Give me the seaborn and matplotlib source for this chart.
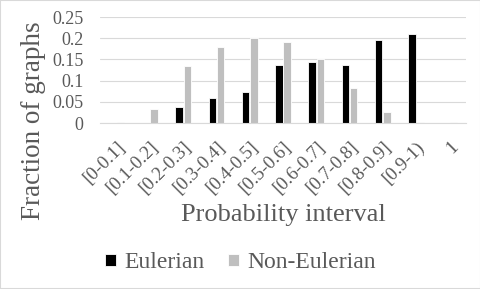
import matplotlib
matplotlib.use("Agg")
import matplotlib.pyplot as plt
import seaborn as sns
import pandas as pd

# Data
intervals = ["[0-0.1]", "[0.1-0.2]", "[0.2-0.3]", "[0.3-0.4]", "[0.4-0.5]", "[0.5-0.6]",
             "[0.6-0.7]", "[0.7-0.8]", "[0.8-0.9]", "[0.9-1)", "1"]
eulerian = [0.0, 0.0, 0.037, 0.06, 0.074, 0.136, 0.145, 0.136, 0.195, 0.21, 0.0]
non_eulerian = [0.002, 0.032, 0.135, 0.18, 0.2, 0.19, 0.15, 0.083, 0.025, 0.002, 0.002]

df = pd.DataFrame({
    "interval": intervals * 2,
    "fraction": eulerian + non_eulerian,
    "type": ["Eulerian"] * len(intervals) + ["Non-Eulerian"] * len(intervals),
})

sns.set_style("white")
plt.rcParams["font.family"] = ["Liberation Serif", "DejaVu Serif"]
txt = "#595959"

fig = plt.figure(figsize=(4.81, 2.89), dpi=100)
ax = fig.add_axes([100 / 481, 1 - 123 / 289, 366 / 481, 106 / 289])

sns.barplot(data=df, x="interval", y="fraction", hue="type",
            palette={"Eulerian": "#000000", "Non-Eulerian": "#bfbfbf"},
            width=0.5, gap=0.12, edgecolor="white", linewidth=0.6, ax=ax)

ax.set_ylim(0, 0.25)
ax.set_yticks([0, 0.05, 0.1, 0.15, 0.2, 0.25])
ax.set_yticklabels(["0", "0.05", "0.1", "0.15", "0.2", "0.25"])
ax.set_xlim(-0.5, len(intervals) - 0.5)
ax.yaxis.grid(True, color="#d9d9d9", linewidth=0.8)
ax.set_axisbelow(True)
for s in ["top", "right", "left"]:
    ax.spines[s].set_visible(False)
ax.spines["bottom"].set_color("#d9d9d9")

ax.tick_params(axis="y", length=0, labelsize=13, labelcolor=txt, pad=12)
ax.tick_params(axis="x", length=0, labelsize=13.5, labelcolor=txt, pad=11)
plt.setp(ax.get_xticklabels(), rotation=45, ha="right", rotation_mode="anchor")

ax.set_xlabel("Probability interval", fontsize=19, color=txt, va="center")
ax.xaxis.set_label_coords(0.5, (123 - 215) / 106)
ax.set_ylabel("Fraction of graphs", fontsize=19.5, color=txt, va="center")
ax.yaxis.set_label_coords((33 - 100) / 366, (123 - 121) / 106)

handles, labels = ax.get_legend_handles_labels()
ax.legend_.remove()
fig.legend(handles, labels, loc="center", bbox_to_anchor=(0.5, 1 - 263 / 289), ncol=2,
           frameon=False, fontsize=17, labelcolor=txt, handlelength=0.45, handleheight=0.45,
           handletextpad=0.35, columnspacing=1.0)

fig.patches.append(plt.Rectangle((0, 0), 1, 1, transform=fig.transFigure, fill=False,
                                 edgecolor="#d9d9d9", linewidth=1.5))

fig.savefig("out.png", dpi=100)
